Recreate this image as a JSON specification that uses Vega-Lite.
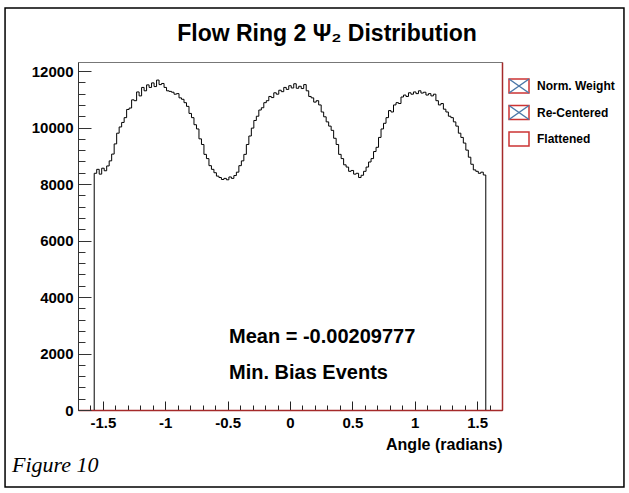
{
  "$schema": "https://vega.github.io/schema/vega-lite/v6.json",
  "width": 424,
  "height": 348,
  "autosize": "none",
  "padding": {"left": 78, "top": 62, "right": 127, "bottom": 83},
  "background": "white",
  "config": {"view": {"stroke": "#777777", "strokeWidth": 1}, "font": "Liberation Sans"},
  "datasets": {
    "hist": [
      {"angle": -1.57, "count": 0},
      {"angle": -1.57, "count": 8380}, {"angle": -1.55, "count": 8520}, {"angle": -1.53, "count": 8350}, {"angle": -1.51, "count": 8560}, {"angle": -1.49, "count": 8470},
      {"angle": -1.47, "count": 8640}, {"angle": -1.45, "count": 8820}, {"angle": -1.43, "count": 9060}, {"angle": -1.41, "count": 9420}, {"angle": -1.39, "count": 9800},
      {"angle": -1.37, "count": 10020}, {"angle": -1.35, "count": 10180}, {"angle": -1.33, "count": 10350}, {"angle": -1.31, "count": 10640}, {"angle": -1.29, "count": 10690},
      {"angle": -1.27, "count": 10980}, {"angle": -1.25, "count": 10950}, {"angle": -1.23, "count": 11260}, {"angle": -1.21, "count": 11120}, {"angle": -1.19, "count": 11420},
      {"angle": -1.17, "count": 11300}, {"angle": -1.15, "count": 11510}, {"angle": -1.13, "count": 11420}, {"angle": -1.11, "count": 11580}, {"angle": -1.09, "count": 11450},
      {"angle": -1.07, "count": 11680}, {"angle": -1.05, "count": 11520}, {"angle": -1.03, "count": 11560}, {"angle": -1.01, "count": 11420}, {"angle": -0.99, "count": 11300},
      {"angle": -0.97, "count": 11280}, {"angle": -0.95, "count": 11250}, {"angle": -0.93, "count": 11180}, {"angle": -0.91, "count": 11200}, {"angle": -0.89, "count": 11050},
      {"angle": -0.87, "count": 11000}, {"angle": -0.85, "count": 10880}, {"angle": -0.83, "count": 10750}, {"angle": -0.81, "count": 10500}, {"angle": -0.79, "count": 10350},
      {"angle": -0.77, "count": 10100}, {"angle": -0.75, "count": 9950}, {"angle": -0.73, "count": 9600}, {"angle": -0.71, "count": 9400}, {"angle": -0.69, "count": 9050},
      {"angle": -0.67, "count": 8900}, {"angle": -0.65, "count": 8650}, {"angle": -0.63, "count": 8520}, {"angle": -0.61, "count": 8400}, {"angle": -0.59, "count": 8280},
      {"angle": -0.57, "count": 8230}, {"angle": -0.55, "count": 8160}, {"angle": -0.53, "count": 8200}, {"angle": -0.51, "count": 8150}, {"angle": -0.49, "count": 8250},
      {"angle": -0.47, "count": 8200}, {"angle": -0.45, "count": 8300}, {"angle": -0.43, "count": 8420}, {"angle": -0.41, "count": 8650}, {"angle": -0.39, "count": 8820},
      {"angle": -0.37, "count": 9050}, {"angle": -0.35, "count": 9400}, {"angle": -0.33, "count": 9700}, {"angle": -0.31, "count": 9980}, {"angle": -0.29, "count": 10250},
      {"angle": -0.27, "count": 10400}, {"angle": -0.25, "count": 10620}, {"angle": -0.23, "count": 10700}, {"angle": -0.21, "count": 10880}, {"angle": -0.19, "count": 10950},
      {"angle": -0.17, "count": 11100}, {"angle": -0.15, "count": 11060}, {"angle": -0.13, "count": 11230}, {"angle": -0.11, "count": 11180}, {"angle": -0.09, "count": 11320},
      {"angle": -0.07, "count": 11270}, {"angle": -0.05, "count": 11420}, {"angle": -0.03, "count": 11350}, {"angle": -0.01, "count": 11480}, {"angle": 0.01, "count": 11400},
      {"angle": 0.03, "count": 11550}, {"angle": 0.05, "count": 11390}, {"angle": 0.07, "count": 11460}, {"angle": 0.09, "count": 11380}, {"angle": 0.11, "count": 11520},
      {"angle": 0.13, "count": 11300}, {"angle": 0.15, "count": 11100}, {"angle": 0.17, "count": 11050}, {"angle": 0.19, "count": 10900}, {"angle": 0.21, "count": 10950},
      {"angle": 0.23, "count": 10800}, {"angle": 0.25, "count": 10550}, {"angle": 0.27, "count": 10380}, {"angle": 0.29, "count": 10200}, {"angle": 0.31, "count": 10050},
      {"angle": 0.33, "count": 9900}, {"angle": 0.35, "count": 9620}, {"angle": 0.37, "count": 9400}, {"angle": 0.39, "count": 9050}, {"angle": 0.41, "count": 8900},
      {"angle": 0.43, "count": 8680}, {"angle": 0.45, "count": 8600}, {"angle": 0.47, "count": 8450}, {"angle": 0.49, "count": 8480}, {"angle": 0.51, "count": 8350},
      {"angle": 0.53, "count": 8380}, {"angle": 0.55, "count": 8230}, {"angle": 0.57, "count": 8310}, {"angle": 0.59, "count": 8450}, {"angle": 0.61, "count": 8600},
      {"angle": 0.63, "count": 8780}, {"angle": 0.65, "count": 8900}, {"angle": 0.67, "count": 9150}, {"angle": 0.69, "count": 9300}, {"angle": 0.71, "count": 9650},
      {"angle": 0.73, "count": 9950}, {"angle": 0.75, "count": 10150}, {"angle": 0.77, "count": 10350}, {"angle": 0.79, "count": 10600}, {"angle": 0.81, "count": 10550},
      {"angle": 0.83, "count": 10800}, {"angle": 0.85, "count": 10880}, {"angle": 0.87, "count": 10850}, {"angle": 0.89, "count": 11080}, {"angle": 0.91, "count": 11150},
      {"angle": 0.93, "count": 11100}, {"angle": 0.95, "count": 11230}, {"angle": 0.97, "count": 11180}, {"angle": 0.99, "count": 11260}, {"angle": 1.01, "count": 11200},
      {"angle": 1.03, "count": 11300}, {"angle": 1.05, "count": 11220}, {"angle": 1.07, "count": 11250}, {"angle": 1.09, "count": 11150}, {"angle": 1.11, "count": 11200},
      {"angle": 1.13, "count": 11120}, {"angle": 1.15, "count": 11180}, {"angle": 1.17, "count": 10950}, {"angle": 1.19, "count": 10800}, {"angle": 1.21, "count": 10850},
      {"angle": 1.23, "count": 10650}, {"angle": 1.25, "count": 10550}, {"angle": 1.27, "count": 10400}, {"angle": 1.29, "count": 10350}, {"angle": 1.31, "count": 10200},
      {"angle": 1.33, "count": 10050}, {"angle": 1.35, "count": 9800}, {"angle": 1.37, "count": 9650}, {"angle": 1.39, "count": 9450}, {"angle": 1.41, "count": 9200},
      {"angle": 1.43, "count": 8950}, {"angle": 1.45, "count": 8700}, {"angle": 1.47, "count": 8500}, {"angle": 1.49, "count": 8450}, {"angle": 1.51, "count": 8380},
      {"angle": 1.53, "count": 8420}, {"angle": 1.55, "count": 8320},
      {"angle": 1.57, "count": 8320},
      {"angle": 1.57, "count": 0}
    ]
  },
  "resolve": {"axis": {"y": "independent", "x": "independent"}},
  "layer": [
    {
      "data": {"values": [{}]},
      "mark": {"type": "rect", "fill": "transparent", "stroke": "black", "strokeWidth": 1.5, "clip": false},
      "encoding": {
        "x": {"datum": -2.285, "type": "quantitative", "scale": {"domain": [-1.7, 1.7], "nice": false}, "axis": null},
        "x2": {"datum": 2.678},
        "y": {"datum": 14232, "type": "quantitative", "scale": {"domain": [0, 12320], "nice": false}, "axis": null},
        "y2": {"datum": -2726}
      }
    },
    {
      "data": {"name": "hist"},
      "mark": {"type": "line", "interpolate": "step-after", "strokeWidth": 1, "color": "black", "clip": false},
      "encoding": {
        "x": {"field": "angle", "type": "quantitative", "scale": {"domain": [-1.7, 1.7], "nice": false},
          "axis": {"orient": "bottom", "values": [-1.7,-1.6,-1.5,-1.4,-1.3,-1.2,-1.1,-1,-0.9,-0.8,-0.7,-0.6,-0.5,-0.4,-0.3,-0.2,-0.1,0,0.1,0.2,0.3,0.4,0.5,0.6,0.7,0.8,0.9,1,1.1,1.2,1.3,1.4,1.5,1.6,1.7],
            "labelExpr": "abs(datum.value*2 - round(datum.value*2)) < 0.001 ? toString(round(datum.value*10)/10) : ''",
            "tickSize": {"condition": {"test": "abs(datum.value*2 - round(datum.value*2)) < 0.001", "value": -9}, "value": -5},
            "tickColor": "#222222", "domainColor": "#a52a2a", "domainWidth": 1.5,
            "labelFont": "Liberation Sans", "labelFontSize": 15, "labelFontWeight": "bold", "labelColor": "black", "labelPadding": 14,
            "labelFlush": false, "labelOverlap": false, "grid": false,
            "title": "Angle (radians)", "titleFont": "Liberation Sans", "titleFontSize": 16, "titleFontWeight": "bold", "titleColor": "black", "titleAnchor": "end", "titlePadding": 2}},
        "y": {"field": "count", "type": "quantitative", "scale": {"domain": [0, 12320], "nice": false},
          "axis": {"orient": "left", "values": [0,400,800,1200,1600,2000,2400,2800,3200,3600,4000,4400,4800,5200,5600,6000,6400,6800,7200,7600,8000,8400,8800,9200,9600,10000,10400,10800,11200,11600,12000],
            "labelExpr": "datum.value % 2000 === 0 ? toString(datum.value) : ''",
            "tickSize": {"condition": {"test": "datum.value % 2000 === 0", "value": -13}, "value": -7},
            "tickColor": "#333333", "domainColor": "#333333", "domainWidth": 1,
            "labelFont": "Liberation Sans", "labelFontSize": 15, "labelFontWeight": "bold", "labelColor": "black", "labelPadding": 18,
            "labelFlush": false, "labelOverlap": false, "grid": false, "title": null}},
        "order": {"value": null}
      }
    },
    {
      "data": {"values": [{}]},
      "mark": {"type": "point", "opacity": 0, "filled": false},
      "encoding": {
        "x": {"datum": 0, "type": "quantitative", "scale": {"domain": [-1.7, 1.7], "nice": false}, "axis": null},
        "y": {"datum": 5000, "type": "quantitative", "scale": {"domain": [0, 12320], "nice": false}, "axis": null},
        "color": {"datum": "Flattened", "type": "nominal",
          "scale": {"domain": ["Norm. Weight", "Re-Centered", "Flattened"], "range": ["#cc3333", "#cc3333", "#cc3333"]},
          "legend": {"orient": "none", "legendX": 430, "legendY": 13, "title": null, "symbolType": "M-1,-0.7H1V0.7H-1Z", "symbolSize": 400, "symbolStrokeWidth": 1.5,
            "labelFont": "Liberation Sans", "labelFontSize": 12, "labelFontWeight": "bold", "labelColor": "black", "rowPadding": 5.5, "padding": 0, "labelOffset": 7,
            "encode": {"symbols": {"update": {"fill": {"value": "transparent"}, "opacity": {"value": 1}, "strokeWidth": {"value": 1.5}}}}}}
      }
    },
    {
      "data": {"values": [{}]},
      "mark": {"type": "point", "opacity": 0},
      "encoding": {
        "x": {"datum": 0, "type": "quantitative", "scale": {"domain": [-1.7, 1.7], "nice": false}, "axis": null},
        "y": {"datum": 5000, "type": "quantitative", "scale": {"domain": [0, 12320], "nice": false}, "axis": null},
        "shape": {"datum": "nw", "type": "nominal",
          "scale": {"domain": ["nw", "rc", "fl"], "range": ["M-1,-0.7L1,0.7M-1,0.7L1,-0.7", "M-1,-0.7L1,0.7M-1,0.7L1,-0.7", "M0,0"]},
          "legend": {"orient": "none", "legendX": 430, "legendY": 13, "title": null, "symbolSize": 400, "symbolStrokeWidth": 1.5,
            "labelExpr": "''", "labelFontSize": 12, "rowPadding": 5.5, "padding": 0, "labelOffset": 7,
            "encode": {"symbols": {"update": {"stroke": {"value": "black"}, "fill": {"value": "transparent"}, "opacity": {"value": 1}, "strokeWidth": {"value": 1.5}}}}}
        }
      }
    },
    {
      "data": {"values": [{}]},
      "mark": {"type": "text", "text": "Flow Ring 2  Ψ₂ Distribution", "font": "Liberation Sans", "fontSize": 23, "fontWeight": "bold", "align": "center", "baseline": "alphabetic", "color": "black", "clip": false},
      "encoding": {
        "x": {"datum": 0.297, "type": "quantitative", "scale": {"domain": [-1.7, 1.7], "nice": false}, "axis": null},
        "y": {"datum": 13063, "type": "quantitative", "scale": {"domain": [0, 12320], "nice": false}, "axis": null}
      }
    },
    {
      "data": {"values": [{}]},
      "mark": {"type": "text", "text": "Mean = -0.00209777", "font": "Liberation Sans", "fontSize": 20, "fontWeight": "bold", "align": "left", "baseline": "alphabetic", "color": "black"},
      "encoding": {
        "x": {"datum": -0.489, "type": "quantitative", "scale": {"domain": [-1.7, 1.7], "nice": false}, "axis": null},
        "y": {"datum": 2372, "type": "quantitative", "scale": {"domain": [0, 12320], "nice": false},
          "axis": {"orient": "right", "domainColor": "#a52a2a", "domainWidth": 1.5, "ticks": false, "labels": false, "title": null, "grid": false}}
      }
    },
    {
      "data": {"values": [{}]},
      "mark": {"type": "text", "text": "Min. Bias Events", "font": "Liberation Sans", "fontSize": 20, "fontWeight": "bold", "align": "left", "baseline": "alphabetic", "color": "black"},
      "encoding": {
        "x": {"datum": -0.489, "type": "quantitative", "scale": {"domain": [-1.7, 1.7], "nice": false}, "axis": null},
        "y": {"datum": 1097, "type": "quantitative", "scale": {"domain": [0, 12320], "nice": false}, "axis": null}
      }
    },
    {
      "data": {"values": [{}]},
      "mark": {"type": "text", "text": "Figure 10", "font": "Liberation Serif", "fontSize": 22, "fontStyle": "italic", "align": "left", "baseline": "alphabetic", "color": "black", "clip": false},
      "encoding": {
        "x": {"datum": -2.229, "type": "quantitative", "scale": {"domain": [-1.7, 1.7], "nice": false}, "axis": null},
        "y": {"datum": -2195, "type": "quantitative", "scale": {"domain": [0, 12320], "nice": false}, "axis": null}
      }
    }
  ]
}
